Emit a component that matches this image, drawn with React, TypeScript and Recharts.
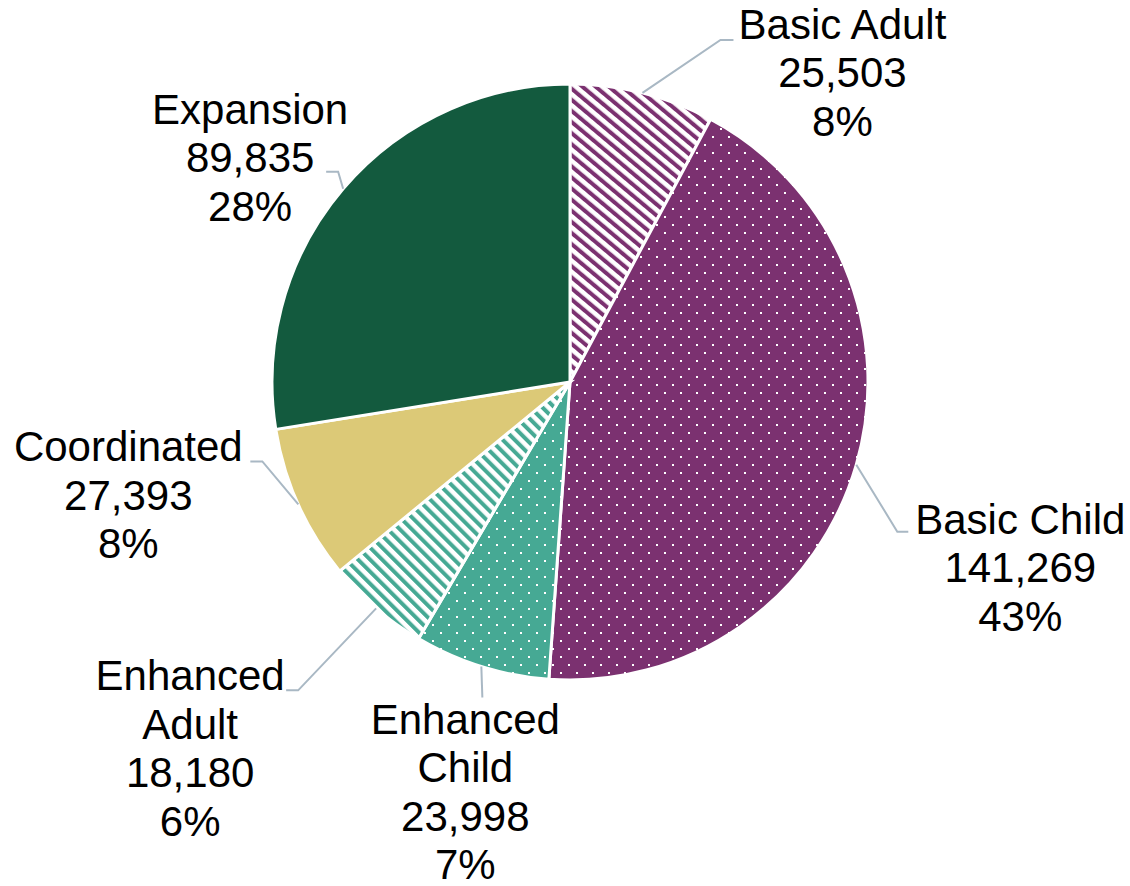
import React from 'react';
import { PieChart, Pie, Cell } from 'recharts';

const categories = ['Basic Adult', 'Basic Child', 'Enhanced Child', 'Enhanced Adult', 'Coordinated', 'Expansion'];
const counts = [25503, 141269, 23998, 18180, 27393, 89835];
const fills = ['url(#stripePurple)', 'url(#dotPurple)', 'url(#dotTeal)', 'url(#stripeTeal)', '#dcc977', '#135a3e'];

// label placement relative to the point where the leader meets the arc
const labelLayout = [
  { elbow: [78, -53], stub: 13, text: [200, -54], wrap: false },
  { elbow: [41, 67], stub: 11, text: [164, 69], wrap: false },
  { elbow: [1, 31], stub: 0, text: [-16, 67], wrap: true },
  { elbow: [-78, 82], stub: -12, text: [-186, 82], wrap: true },
  { elbow: [-36, -43], stub: -12, text: [-170, -43], wrap: false },
  { elbow: [-5, -17], stub: -12, text: [-93, -65], wrap: false },
];

const total = counts.reduce((a, b) => a + b, 0);
const data = categories.map((name, i) => ({ name, value: counts[i] }));

const PURPLE = '#7b3170';
const TEAL = '#46a994';
const LEADER = '#a9b8c4';
const RAD = Math.PI / 180;

const renderLabel = (props: any) => {
  const { cx, cy, midAngle, outerRadius, index } = props;
  const ax = cx + outerRadius * Math.cos(-midAngle * RAD);
  const ay = cy + outerRadius * Math.sin(-midAngle * RAD);
  const lay = labelLayout[index];
  const ex = ax + lay.elbow[0];
  const ey = ay + lay.elbow[1];
  const tx = ax + lay.text[0];
  const ty = ay + lay.text[1];
  const name = categories[index];
  const nameLines = lay.wrap ? name.split(' ') : [name];
  const lines = [
    ...nameLines,
    counts[index].toLocaleString('en-US'),
    `${Math.round((counts[index] / total) * 100)}%`,
  ];
  return (
    <g key={`lbl-${index}`}>
      <polyline
        points={`${ax},${ay} ${ex},${ey} ${ex + lay.stub},${ey}`}
        fill="none"
        stroke={LEADER}
        strokeWidth={2}
      />
      <text
        x={tx}
        y={ty}
        textAnchor="middle"
        fontFamily="'Liberation Sans', Arial, sans-serif"
        fontSize={42}
        fill="#000"
      >
        {lines.map((l, i) => (
          <tspan key={i} x={tx} dy={i === 0 ? 0 : 48.5}>
            {l}
          </tspan>
        ))}
      </text>
    </g>
  );
};

export default function App() {
  return (
    <div style={{ position: 'absolute', left: 0, top: 0, width: 1130, height: 886, background: '#fff' }}>
      <PieChart width={1130} height={886} margin={{ top: 0, right: 0, bottom: 0, left: 0 }}>
        <defs>
          <pattern id="stripePurple" patternUnits="userSpaceOnUse" width={8.5} height={8.5} patternTransform="rotate(-50)">
            <rect width={8.5} height={8.5} fill="#fff" />
            <rect width={4} height={8.5} fill={PURPLE} />
          </pattern>
          <pattern id="stripeTeal" patternUnits="userSpaceOnUse" width={8.5} height={8.5} patternTransform="rotate(-45)">
            <rect width={8.5} height={8.5} fill="#fff" />
            <rect width={4} height={8.5} fill={TEAL} />
          </pattern>
          <pattern id="dotPurple" patternUnits="userSpaceOnUse" width={16} height={16}>
            <rect width={16} height={16} fill={PURPLE} />
            <rect x={0} y={0} width={2} height={2} fill="#fff" />
            <rect x={8} y={8} width={2} height={2} fill="#fff" />
          </pattern>
          <pattern id="dotTeal" patternUnits="userSpaceOnUse" width={16} height={16}>
            <rect width={16} height={16} fill={TEAL} />
            <rect x={0} y={0} width={2} height={2} fill="#fff" />
            <rect x={8} y={8} width={2} height={2} fill="#fff" />
          </pattern>
        </defs>
        <Pie
          data={data}
          dataKey="value"
          nameKey="name"
          cx={570}
          cy={382}
          outerRadius={298}
          startAngle={90}
          endAngle={-270}
          stroke="#fff"
          strokeWidth={3}
          label={renderLabel}
          labelLine={false}
          isAnimationActive={false}
        >
          {data.map((_, i) => (
            <Cell key={i} fill={fills[i]} />
          ))}
        </Pie>
      </PieChart>
    </div>
  );
}
